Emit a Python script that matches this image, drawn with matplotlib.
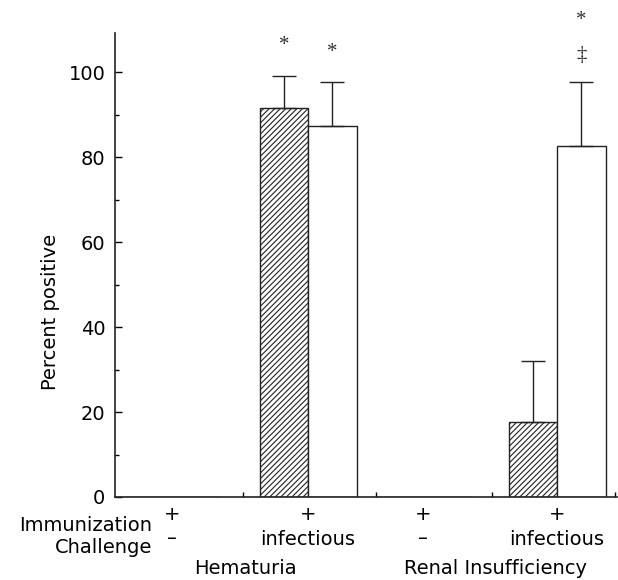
import matplotlib
matplotlib.use("Agg")
import matplotlib.pyplot as plt
from matplotlib.transforms import blended_transform_factory
import numpy as np

plt.rcParams["font.family"] = ["DejaVu Sans"]
plt.rcParams["hatch.linewidth"] = 0.8

# data
immunization = ["+", "+", "+", "+"]
challenge = ["\u2013", "infectious", "\u2013", "infectious"]
outcomes = ["Hematuria", "Renal Insufficiency"]
hatched_vals = [0, 91.5, 0, 17.6]
hatched_err = [0, 7.6, 0, 14.4]
open_vals = [0, 87.3, 0, 82.6]
open_err = [0, 10.3, 0, 15.0]
# significance marks: (group, series, labels)
marks = [(1, 0, ["*"]), (1, 1, ["*"]), (3, 1, ["\u2021", "*"])]
mark_offsets = [[30], [30], [27, 62]]  # pixels above the error bar top

# layout (x in axis units, axis spans 0..502 px)
xpos = np.array([57, 193, 308, 442])
width = 48.5
minor_x = [128, 261, 377, 500]
outcome_x = [130, 381]
FS = 14

fig = plt.figure(figsize=(6.18, 5.8), dpi=100)
ax = fig.add_axes([115 / 618, 83 / 580, 502 / 618, 464 / 580])

ax.bar(xpos - width / 2, hatched_vals, width, color="white", edgecolor="#222222",
       hatch="//////", linewidth=1.0)
ax.bar(xpos + width / 2, open_vals, width, color="white", edgecolor="#222222",
       linewidth=1.0)

for vals, errs, off in [(hatched_vals, hatched_err, -width / 2), (open_vals, open_err, width / 2)]:
    for x, v, e in zip(xpos, vals, errs):
        if e > 0:
            ax.errorbar(x + off, v, yerr=[[0], [e]], color="#222222", capsize=8.6,
                        elinewidth=1.0, capthick=1.0, fmt="none")

for (g, s, labels), offs in zip(marks, mark_offsets):
    if s == 0:
        x = xpos[g] - width / 2
        top = hatched_vals[g] + hatched_err[g]
    else:
        x = xpos[g] + width / 2
        top = open_vals[g] + open_err[g]
    for lab, dy in zip(labels, offs):
        ax.annotate(lab, (x, top), xytext=(0, dy), textcoords="offset pixels",
                    ha="center", va="center", fontsize=15, family="Liberation Serif",
                    color="#333333", annotation_clip=False)

ax.set_xlim(0, 502)
ax.set_ylim(0, 109.2)
ax.spines["top"].set_visible(False)
ax.spines["right"].set_visible(False)
for sp in ["left", "bottom"]:
    ax.spines[sp].set_linewidth(1.2)
    ax.spines[sp].set_color("#222222")

ax.set_yticks([0, 20, 40, 60, 80, 100])
ax.set_yticks([10, 30, 50, 70, 90], minor=True)
ax.tick_params(axis="y", which="major", direction="in", length=5, width=1.0,
               labelsize=FS, pad=7)
ax.tick_params(axis="y", which="minor", direction="in", length=3, width=1.0)
ax.set_xticks([])
ax.set_xticks(minor_x, minor=True)
ax.tick_params(axis="x", which="minor", direction="in", length=3.5, width=1.0)
ax.set_ylabel("Percent positive", fontsize=FS)
ax.yaxis.set_label_coords(-0.11, 0.399)

# text rows below the axis, y in figure pixels from top (baselines)
tr = blended_transform_factory(ax.transData, fig.transFigure)
fy = lambda py: (580 - py) / 580
for x, im, ch in zip(xpos, immunization, challenge):
    ax.text(x, fy(520), im, transform=tr, ha="center", va="baseline", fontsize=FS)
    ax.text(x, fy(545 if ch != "\u2013" else 544), ch, transform=tr, ha="center",
            va="baseline", fontsize=FS)
ax.text(37, fy(531), "Immunization", transform=tr, ha="right", va="baseline", fontsize=FS)
ax.text(37, fy(553), "Challenge", transform=tr, ha="right", va="baseline", fontsize=FS)
for x, lab in zip(outcome_x, outcomes):
    ax.text(x, fy(574), lab, transform=tr, ha="center", va="baseline", fontsize=FS)

fig.savefig("out.png", dpi=100)
